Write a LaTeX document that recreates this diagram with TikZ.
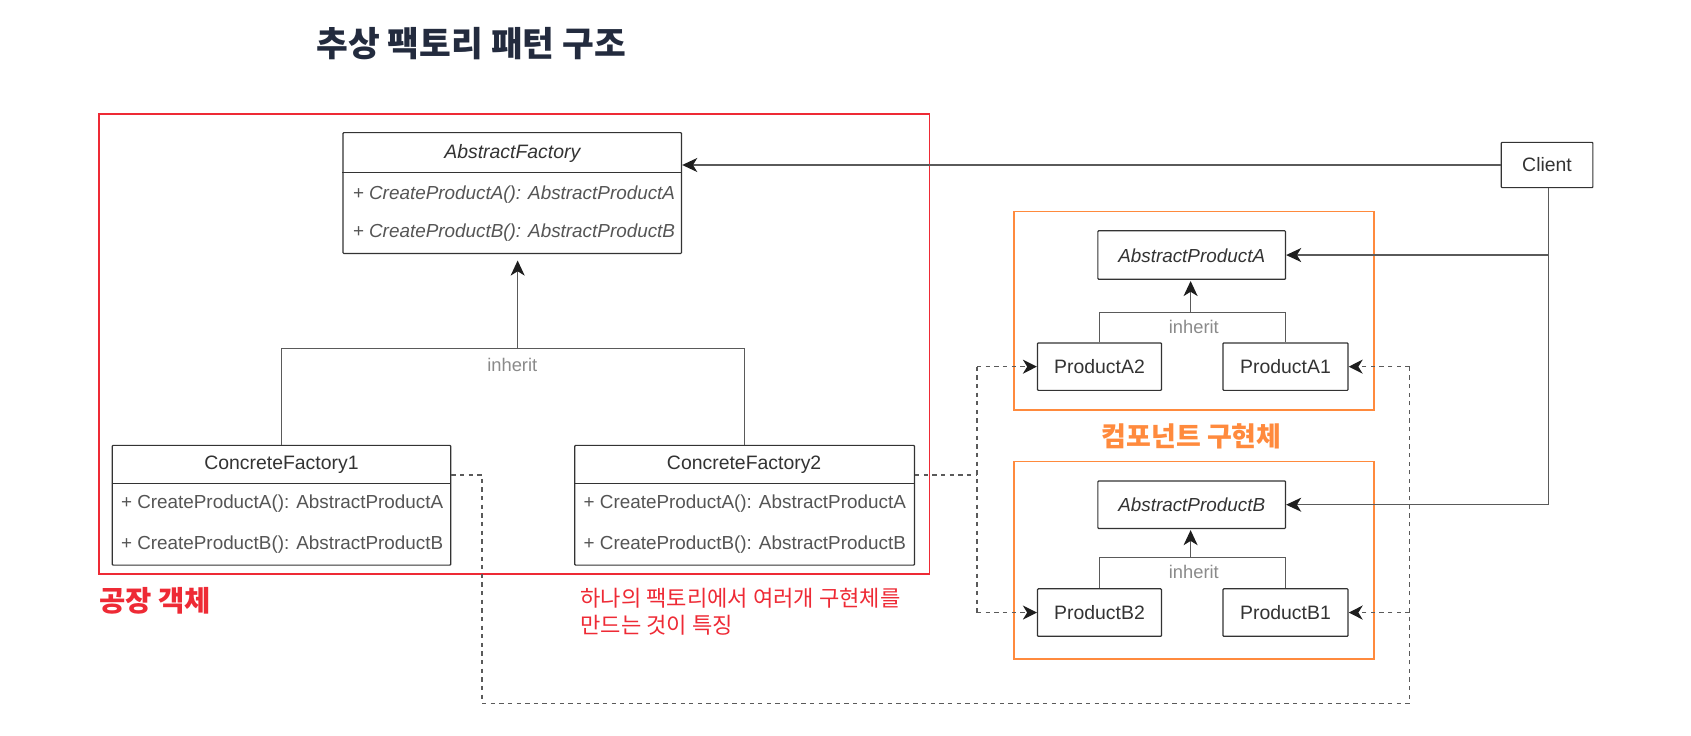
\documentclass[tikz,border=0pt]{standalone}
\usepackage{fontspec}
\setmainfont{Liberation Sans}
\newfontfamily\kr{Noto Sans CJK KR}
\usetikzlibrary{arrows.meta,calc}
\definecolor{boxline}{HTML}{333333}
\definecolor{lineg}{HTML}{5A5A5A}
\definecolor{txtg}{HTML}{333333}
\definecolor{methg}{HTML}{555555}
\definecolor{inhg}{HTML}{8A8A8A}
\definecolor{redc}{HTML}{EE2A35}
\definecolor{orangec}{HTML}{FF8A3D}
\definecolor{titlec}{HTML}{232B3E}
\definecolor{tipc}{HTML}{1E1E1E}
\begin{document}
\begin{tikzpicture}[x=1pt,y=-1pt,
  umlbox/.style={draw=boxline, line width=1.1pt, inner sep=0pt, fill=white, rounded corners=0.8pt},
  frame/.style={line width=1.6pt, inner sep=0pt},
  clsname/.style={font=\fontsize{18}{20}\selectfont, text=txtg, inner sep=0pt},
  meth/.style={font=\fontsize{17.5}{20}\selectfont, text=methg, anchor=west, inner sep=0pt},
  inh/.style={font=\fontsize{17}{19}\selectfont, text=inhg, inner sep=0pt},
  conn/.style={draw=lineg, line width=1.2pt},
  arr/.style={conn, -{Stealth[length=14pt,width=13pt,inset=4pt,color=tipc]}},
  dsh/.style={draw=lineg, line width=1.2pt, dash pattern=on 4pt off 4pt},
  dsharr/.style={dsh, -{Stealth[length=13pt,width=13pt,inset=4pt,color=tipc]}}
]
\useasboundingbox (0,0) rectangle (1568,682);

% title
\node[font=\kr\bfseries\fontsize{32}{35}\selectfont, text=titlec] (title) at (437,40) {추상 팩토리 패턴 구조};

% factory frame
\node[frame, draw=redc, minimum width=770, minimum height=426] (fac) at (477,319) {};
\node[font=\kr\bfseries\fontsize{26.5}{28}\selectfont, text=redc, anchor=west, inner sep=0pt] (facl) at (92,557) {공장 객체};
\node[font=\kr\fontsize{20.5}{22}\selectfont, text=redc, anchor=west, inner sep=0pt] (note1) at (538,555) {하나의 팩토리에서 여러개 구현체를};
\node[font=\kr\fontsize{20.5}{22}\selectfont, text=redc, anchor=west, inner sep=0pt] (note2) at (538,580) {만드는 것이 특징};

% AbstractFactory
\node[umlbox, minimum width=314, minimum height=112] (af) at (475,179) {};
\draw[conn, draw=boxline] (af.west |- 0,160) -- (af.east |- 0,160);
\node[clsname, font=\itshape\fontsize{18}{20}\selectfont] (afh) at (475,142) {AbstractFactory};
\node[meth, font=\itshape\fontsize{17.5}{20}\selectfont] (afm1) at (327,180) {+ CreateProductA(): AbstractProductA};
\node[meth, font=\itshape\fontsize{17.5}{20}\selectfont] (afm2) at (327,216) {+ CreateProductB(): AbstractProductB};

% ConcreteFactory1
\node[umlbox, minimum width=314, minimum height=111] (cf1) at (261,468.5) {};
\draw[conn, draw=boxline] (cf1.west |- 0,448) -- (cf1.east |- 0,448);
\node[clsname] (cf1h) at (261,431) {ConcreteFactory1};
\node[meth] (cf1m1) at (112,467) {+ CreateProductA(): AbstractProductA};
\node[meth] (cf1m2) at (112,505) {+ CreateProductB(): AbstractProductB};

% ConcreteFactory2
\node[umlbox, minimum width=315, minimum height=111] (cf2) at (690.5,468.5) {};
\draw[conn, draw=boxline] (cf2.west |- 0,448) -- (cf2.east |- 0,448);
\node[clsname] (cf2h) at (690,431) {ConcreteFactory2};
\node[meth] (cf2m1) at (541,467) {+ CreateProductA(): AbstractProductA};
\node[meth] (cf2m2) at (541,505) {+ CreateProductB(): AbstractProductB};

% inheritance factories
\coordinate (junF) at (480,323);
\draw[conn] (cf1.north) -- (cf1.north |- junF) -- (cf2.north |- junF) -- (cf2.north);
\draw[arr, shorten >=6pt] (junF) -- (junF |- af.south);
\node[inh] (inhF) at (475,338) {inherit};

% Client
\node[umlbox, minimum width=85, minimum height=42] (client) at (1434.5,153) {};
\node[clsname] (clientt) at (1434.5,153) {Client};
\draw[arr] (client.west) -- (client.west -| af.east);

% product frames
\node[frame, draw=orangec, minimum width=334, minimum height=184] (fa) at (1107,288) {};
\node[frame, draw=orangec, minimum width=334, minimum height=183] (fb) at (1107,519.5) {};
\node[font=\kr\bfseries\fontsize{25}{27}\selectfont, text=orangec] (compl) at (1105,405) {컴포넌트 구현체};

% products A
\node[umlbox, minimum width=174, minimum height=45] (apa) at (1105,236.5) {};
\node[clsname, font=\itshape\fontsize{17.5}{20}\selectfont] (apat) at (1105,237) {AbstractProductA};
\node[umlbox, minimum width=115, minimum height=44] (pa2) at (1019.5,340) {};
\node[clsname] (pa2t) at (1019.5,340) {ProductA2};
\node[umlbox, minimum width=116, minimum height=44] (pa1) at (1192,340) {};
\node[clsname] (pa1t) at (1192,340) {ProductA1};
\coordinate (junA) at (1104,290);
\draw[conn] (pa2.north) -- (pa2.north |- junA) -- (pa1.north |- junA) -- (pa1.north);
\draw[arr, shorten >=1pt] (junA) -- (junA |- apa.south);
\node[inh] (inhA) at (1107,303) {inherit};

% products B
\node[umlbox, minimum width=174, minimum height=44] (apb) at (1105,468) {};
\node[clsname, font=\itshape\fontsize{17.5}{20}\selectfont] (apbt) at (1105,468) {AbstractProductB};
\node[umlbox, minimum width=115, minimum height=44] (pb2) at (1019.5,568) {};
\node[clsname] (pb2t) at (1019.5,568) {ProductB2};
\node[umlbox, minimum width=116, minimum height=44] (pb1) at (1192,568) {};
\node[clsname] (pb1t) at (1192,568) {ProductB1};
\coordinate (junB) at (1104,517);
\draw[conn] (pb2.north) -- (pb2.north |- junB) -- (pb1.north |- junB) -- (pb1.north);
\draw[arr, shorten >=1pt] (junB) -- (junB |- apb.south);
\node[inh] (inhB) at (1107,530) {inherit};

% client associations
\coordinate (cv) at (1436,174);
\draw[conn] (client.south -| cv) -- (cv |- apb.east);
\draw[arr] (cv |- apa.east) -- (apa.east);
\draw[arr] (cv |- apb.east) -- (apb.east);

% dashed dependencies
\coordinate (cf2o) at ($(cf2.north east)!0.25!(cf2.south east)$);
\coordinate (cf1o) at ($(cf1.north east)!0.25!(cf1.south east)$);
\coordinate (dA) at (906,441);
\draw[dsh] (cf2o) -- (cf2o -| dA);
\draw[dsh] (dA |- pa2.west) -- (dA |- pb2.west);
\draw[dsharr] (dA |- pa2.west) -- (pa2.west);
\draw[dsharr] (dA |- pb2.west) -- (pb2.west);
\coordinate (dB) at (447,652);
\coordinate (dC) at (1307,652);
\draw[dsh] (cf1o) -- (cf1o -| dB) -- (dB) -- (dC) -- (dC |- pa1.east);
\draw[dsharr] (dC |- pa1.east) -- (pa1.east);
\draw[dsharr] (dC |- pb1.east) -- (pb1.east);
\end{tikzpicture}
\end{document}
